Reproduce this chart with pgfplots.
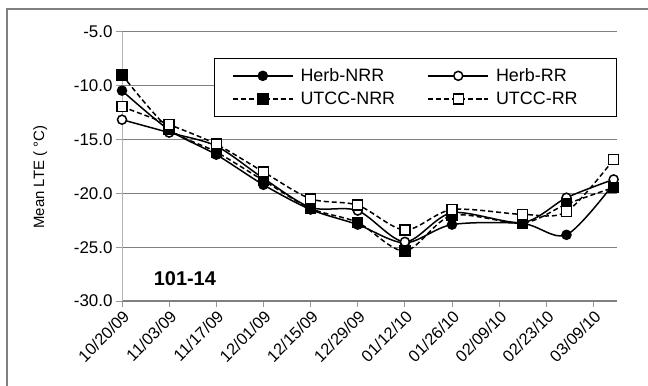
\documentclass[border=0pt]{standalone}
\usepackage{fontspec}
\setmainfont{Liberation Sans}
\usepackage{pgfplots}
\pgfplotsset{compat=1.18}
\begin{document}
\begin{tikzpicture}[x=1bp,y=1bp]
\useasboundingbox (0,0) rectangle (648,385);
\draw[color=black!50, line width=2bp] (7,-20) -- (7,376) -- (670,376);
\begin{axis}[
  at={(122bp,84bp)}, anchor=south west,
  scale only axis, width=495bp, height=269bp,
  xmin=0, xmax=147, ymin=-30, ymax=-5,
  clip=false,
  axis x line=bottom, axis y line=left,
  axis line style={-},
  x axis line style={draw=black!50, line width=2bp},
  y axis line style={draw=black!30, line width=1bp},
  ytick={-30,-25,...,-5},
  xtick={0,14,...,140},
  xticklabels={10/20/09,11/03/09,11/17/09,12/01/09,12/15/09,12/29/09,01/12/10,01/26/10,02/09/10,02/23/10,03/09/10},
  xticklabel style={rotate=45, anchor=north east, font=\fontsize{16.5}{18}\selectfont, inner sep=1.5bp},
  yticklabel style={font=\fontsize{17}{19}\selectfont},
  /pgf/number format/.cd, fixed, fixed zerofill, precision=1, assume math mode=true,
  /pgfplots/.cd,
  ymajorgrids, grid style={draw=black!50, line width=1bp},
  tick style={draw=black!40, line width=1bp},
  major tick length=6bp, tick align=outside,
  ylabel={Mean LTE ( °C)},
  ylabel style={at={(axis description cs:-0.165,0.46)}, rotate=0, anchor=center, font=\fontsize{15}{17}\selectfont},
  legend columns=2,
  legend cell align=left,
  legend style={at={(rel axis cs:0.999,0.903)}, anchor=north east, draw=black, line width=1bp,
    font=\fontsize{18}{20}\selectfont, inner xsep=18bp, inner ysep=8bp, row sep=5bp,
    /tikz/every odd column/.append style={column sep=5bp},
    /tikz/every even column/.append style={column sep=0bp}},
  legend image code/.code={\draw[mark repeat=2,mark phase=2,#1] plot coordinates {(0bp,0bp) (30bp,0bp) (60bp,0bp)};},
  every axis plot/.append style={line width=1.5bp, black, smooth, tension=0.5},
]
\addplot[mark=*, mark size=4.5bp] coordinates {
(0,-10.45) (14,-14.1) (28,-16.4) (42,-19.2) (56,-21.5) (70,-22.9) (84,-24.6) (98,-22.9) (119,-22.8) (132,-23.85) (146,-19.1)};
\addlegendentry{\makebox[125bp][l]{Herb-NRR}}
\addplot[mark=*, mark size=4.5bp, mark options={fill=white}] coordinates {
(0,-13.15) (14,-14.35) (28,-15.6) (42,-18.6) (56,-21.3) (70,-21.6) (84,-24.5) (98,-21.8) (119,-22.7) (132,-20.4) (146,-18.7)};
\addlegendentry{\makebox[100bp][l]{Herb-RR}}
\addplot[dash pattern=on 5bp off 3bp, mark=square*, mark size=5bp, mark options={solid}] coordinates {
(0,-8.98) (14,-14.0) (28,-16.15) (42,-18.8) (56,-21.4) (70,-22.7) (84,-25.35) (98,-22.05) (119,-22.75) (132,-21.0) (146,-19.45)};
\addlegendentry{\makebox[125bp][l]{UTCC-NRR}}
\addplot[dash pattern=on 5bp off 3bp, mark=square*, mark size=5bp, mark options={solid, fill=white}] coordinates {
(0,-11.94) (14,-13.6) (28,-15.43) (42,-18.0) (56,-20.5) (70,-21.1) (84,-23.4) (98,-21.5) (119,-21.95) (132,-21.7) (146,-16.85)};
\addlegendentry{\makebox[100bp][l]{UTCC-RR}}
\node[font=\bfseries\fontsize{20}{23}\selectfont] at (rel axis cs:0.127,0.082) {101-14};
\end{axis}
\end{tikzpicture}
\end{document}
